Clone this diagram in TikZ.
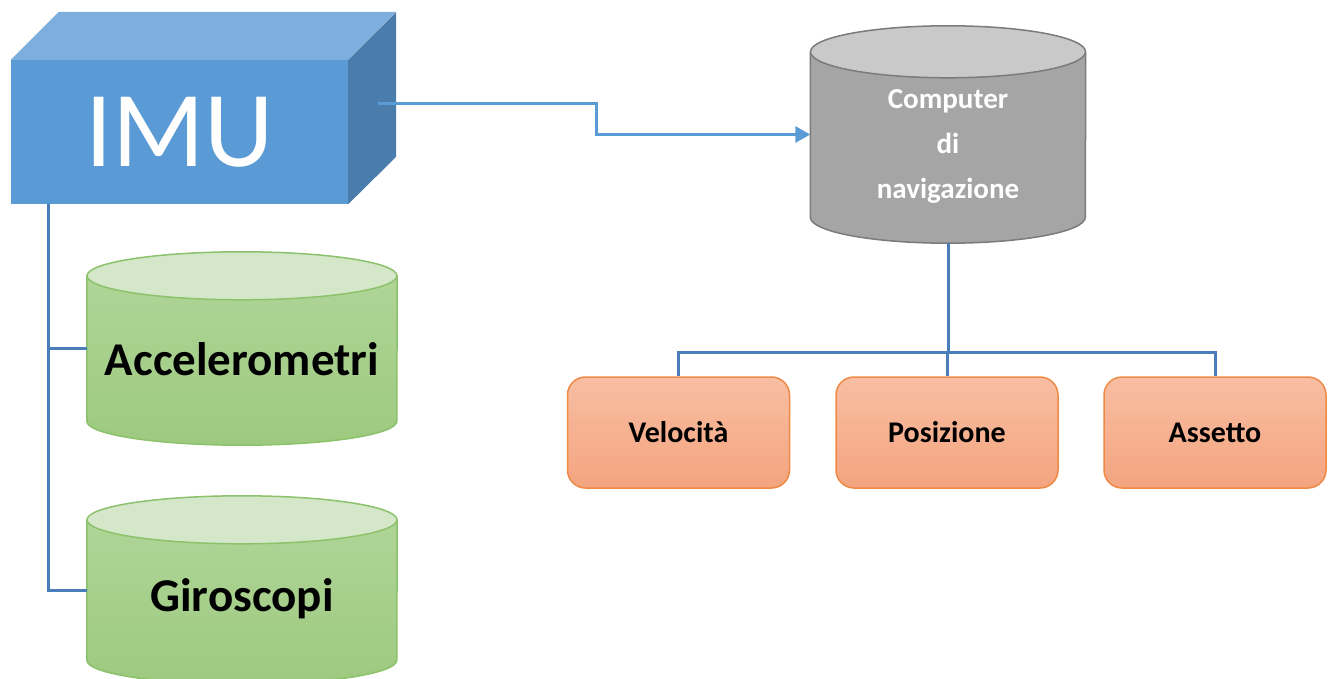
\documentclass[tikz,border=0pt]{standalone}
\usepackage{fontspec}
\setmainfont{Carlito}
\usepackage{tikz}
\usepackage{xcolor}
\usetikzlibrary{arrows.meta, positioning, calc, backgrounds}

\definecolor{imufront}{HTML}{5B9BD5}
\definecolor{imutop}{HTML}{7DAEDD}
\definecolor{imuside}{HTML}{4A7DAB}
\definecolor{linkblue}{HTML}{5B9BD5}
\definecolor{treeblue}{HTML}{4A7EBB}
\definecolor{greentop}{HTML}{B2D69B}
\definecolor{greenbot}{HTML}{9DCA7F}
\definecolor{greenend}{HTML}{D4E7C9}
\definecolor{greenline}{HTML}{8CC26C}
\definecolor{graybody}{HTML}{A5A5A5}
\definecolor{grayend}{HTML}{C9C9C9}
\definecolor{grayline}{HTML}{7B7B7B}
\definecolor{orangetop}{HTML}{F8BEA3}
\definecolor{orangebot}{HTML}{F4A47F}
\definecolor{orangeline}{HTML}{EE8A45}

% cilindro: nodo, rx, ry, fondo, alto, basso, bordo
\newcommand{\drum}[7]{%
  \fill[top color=#5, bottom color=#6] (#1.north west) -- (#1.south west)
    arc[start angle=180, end angle=360, x radius=#2, y radius=#3] -- (#1.north east)
    arc[start angle=0, end angle=180, x radius=#2, y radius=#3] -- cycle;
  \draw[#7, line width=1.5pt] (#1.north west) -- (#1.south west)
    arc[start angle=180, end angle=360, x radius=#2, y radius=#3] -- (#1.north east);
  \draw[#7, line width=1.5pt, fill=#4] (#1.north) ellipse[x radius=#2, y radius=#3];
}

\begin{document}
\begin{tikzpicture}[
  x=1pt, y=1pt,
  cube face/.style={fill=imufront, minimum width=337pt, minimum height=144pt, inner sep=0pt, text=white, font=\fontsize{108}{108}\selectfont},
  drum body/.style={minimum width=310pt, minimum height=#1, inner sep=0pt},
  drum text/.style={font=\fontsize{47}{47}\selectfont\bfseries, inner sep=0pt},
  out box/.style={draw=orangeline, line width=1.5pt, rounded corners=18pt, top color=orangetop, bottom color=orangebot, minimum width=222pt, minimum height=111pt, font=\fontsize{30}{30}\selectfont\bfseries},
  tree/.style={treeblue, line width=3pt},
  link/.style={linkblue, line width=3pt, -{Triangle[length=15pt, width=16pt]}},
]
\useasboundingbox (0,0) rectangle (1333,-679);

% nodi
\node[cube face] (imu) at (179.5,-132) {IMU};
\node[drum body=145pt, label={[drum text, name=acctext, yshift=-11pt]center:Accelerometri}] (acc) at (242,-348.5) {};
\node[drum body=140pt, label={[drum text, name=girotext, yshift=-9pt]center:Giroscopi}] (giro) at (242,-590) {};
\node[drum body=165pt, minimum width=275pt,
  label={[name=comptext, yshift=-12pt, text=white, align=center, font=\fontsize{29}{45}\selectfont\bfseries]center:Computer\\di\\navigazione}] (comp) at (948,-134.5) {};
\node[out box] (vel) at (678.5,-432.5) {Velocità};
\node[out box] (pos) at (947,-432.5) {Posizione};
\node[out box] (ass) at (1215,-432.5) {Assetto};

% forme
\fill[imutop] (imu.north west) -- ++(48,48) -- ++(337,0) -- (imu.north east) -- cycle;
\fill[imuside] (imu.north east) -- ++(48,48) -- ++(0,-145) -- (imu.south east) -- cycle;
\begin{scope}[on background layer]
  \drum{acc}{155}{24}{greenend}{greentop}{greenbot}{greenline}
  \drum{giro}{155}{24}{greenend}{greentop}{greenbot}{greenline}
  \drum{comp}{137.5}{26}{grayend}{graybody}{graybody}{grayline}
\end{scope}

% collegamenti
\coordinate (imuout) at ($(imu.east)+(30,28)$);
\coordinate (imudown) at ($(imu.south west)+(38,0)$);
\coordinate (compout) at ($(comp.south)+(0,-26)$);
\coordinate (hub) at ($(compout)+(0,-109)$);

\draw[link] (imuout) -- ++(218,0) |- (comp.west);
\draw[tree] (imudown) |- (acc.west);
\draw[tree] (imudown) |- (giro.west);
\draw[tree] (compout) -- (hub);
\draw[tree] (vel.north) |- (hub) -| (ass.north);
\draw[tree] (pos.north) -- (pos.north |- hub);

\end{tikzpicture}
\end{document}
